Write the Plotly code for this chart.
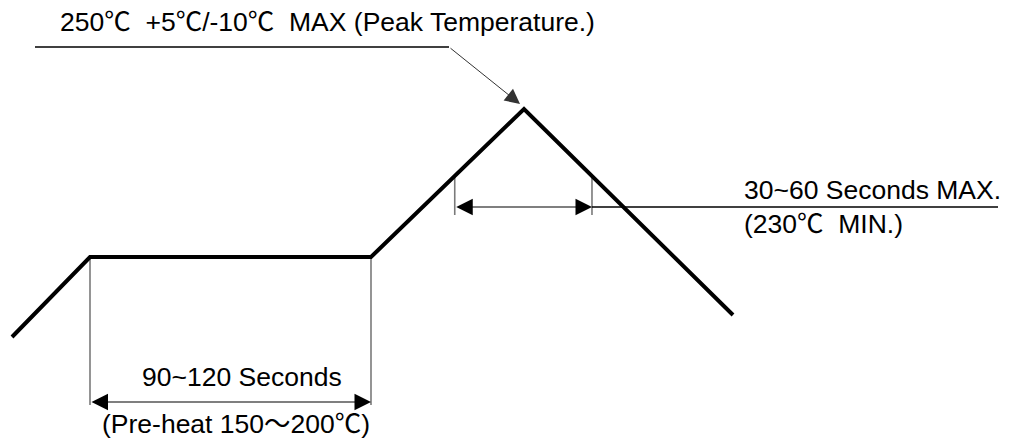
import plotly.graph_objects as go

# Reflow profile (schematic diagram units: x = time, y = temperature level)
profile_time = [12, 90, 371, 524, 733]
profile_temp = [105, 185, 185, 333, 127]

# dimension / label data
preheat_start_idx = 1
preheat_end_idx = 2
liquidus_level = 266          # 230 C line on the diagram
dim_bottom = 37               # bottom of the pre-heat extension lines
preheat_arrow_level = 40
reflow_dim_bottom = 227
reflow_arrow_level = 235
reflow_leader_end = 998

peak_label = "250℃  +5℃/-10℃  MAX (Peak Temperature.)"
preheat_label_1 = "90~120 Seconds"
preheat_label_2 = "(Pre-heat 150～200℃)"
reflow_label_1 = "30~60 Seconds MAX."
reflow_label_2 = "(230℃  MIN.)"

leader_x = [35, 449]
leader_level = 395
leader_tip = (520, 338)


def interp_x(level, x0, y0, x1, y1):
    return x0 + (level - y0) * (x1 - x0) / (y1 - y0)


# 230 C crossing points on rising and falling slopes
x_rise = interp_x(liquidus_level, profile_time[2], profile_temp[2], profile_time[3], profile_temp[3])
x_fall = interp_x(liquidus_level, profile_time[3], profile_temp[3], profile_time[4], profile_temp[4])

fig = go.Figure()

FONT = "Liberation Sans, Arial, Noto Sans CJK JP, sans-serif"
FS = 26.5

# extension lines (gray, thin)
xp0 = profile_time[preheat_start_idx]
xp1 = profile_time[preheat_end_idx]
yp = profile_temp[preheat_start_idx]
for xv, ytop in [(xp0, yp), (xp1, yp)]:
    fig.add_trace(go.Scatter(x=[xv, xv], y=[ytop, dim_bottom], mode="lines",
                             line=dict(color="#7a7a7a", width=1.6), hoverinfo="skip", showlegend=False))
for xv in [x_rise, x_fall]:
    fig.add_trace(go.Scatter(x=[xv, xv], y=[liquidus_level, reflow_dim_bottom], mode="lines",
                             line=dict(color="#7a7a7a", width=1.6), hoverinfo="skip", showlegend=False))

# line from reflow dimension to label
fig.add_trace(go.Scatter(x=[x_fall, reflow_leader_end], y=[reflow_arrow_level, reflow_arrow_level], mode="lines",
                         line=dict(color="black", width=1.3), hoverinfo="skip", showlegend=False))

# leader horizontal for peak
fig.add_trace(go.Scatter(x=leader_x, y=[leader_level, leader_level], mode="lines",
                         line=dict(color="black", width=1.5), hoverinfo="skip", showlegend=False))

# profile
fig.add_trace(go.Scatter(x=profile_time, y=profile_temp, mode="lines",
                         line=dict(color="black", width=4), hoverinfo="skip", showlegend=False))

annotations = []
# double arrows
for (xa, xb, lv) in [(xp0, xp1, preheat_arrow_level), (x_rise, x_fall, reflow_arrow_level)]:
    annotations.append(dict(x=xb, y=lv, ax=xa, ay=lv, xref="x", yref="y", axref="x", ayref="y",
                            showarrow=True, arrowhead=2, arrowside="end+start", arrowsize=3,
                            arrowwidth=1.1, arrowcolor="black", text=""))
# leader diagonal arrow
annotations.append(dict(x=leader_tip[0], y=leader_tip[1], ax=leader_x[1], ay=leader_level,
                        xref="x", yref="y", axref="x", ayref="y", showarrow=True, arrowhead=2,
                        arrowsize=3, arrowwidth=1, arrowcolor="#333333", text=""))

# texts
annotations += [
    dict(x=58, y=420, xref="x", yref="y", text=peak_label, showarrow=False, xanchor="left",
         yanchor="middle", font=dict(family=FONT, size=FS, color="black")),
    dict(x=242, y=65, xref="x", yref="y", text=preheat_label_1, showarrow=False, xanchor="center",
         yanchor="middle", font=dict(family=FONT, size=FS, color="black")),
    dict(x=236, y=18, xref="x", yref="y", text=preheat_label_2, showarrow=False, xanchor="center",
         yanchor="middle", font=dict(family=FONT, size=FS, color="black")),
    dict(x=742, y=252, xref="x", yref="y", text=reflow_label_1, showarrow=False, xanchor="left",
         yanchor="middle", font=dict(family=FONT, size=FS, color="black")),
    dict(x=742, y=218, xref="x", yref="y", text=reflow_label_2, showarrow=False, xanchor="left",
         yanchor="middle", font=dict(family=FONT, size=FS, color="black")),
]

# the page body adds an 8px offset; shift ranges so diagram units match page pixels
fig.update_layout(
    width=1011, height=442,
    margin=dict(l=0, r=0, t=0, b=0),
    paper_bgcolor="white", plot_bgcolor="white",
    xaxis=dict(range=[8, 1019], visible=False, fixedrange=True),
    yaxis=dict(range=[-8, 434], visible=False, fixedrange=True),
    annotations=annotations,
    showlegend=False,
)

fig.write_html("out.html", config={"displayModeBar": False})
